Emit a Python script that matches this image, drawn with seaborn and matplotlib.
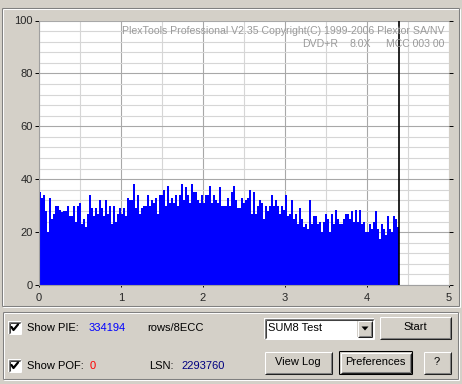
import numpy as np
import pandas as pd
import matplotlib
matplotlib.use("Agg")
import matplotlib.pyplot as plt
from matplotlib.lines import Line2D
from matplotlib.patches import Rectangle, Polygon
from matplotlib.ticker import MultipleLocator
import seaborn as sns

# ---------------- data ----------------
pie_values = [
    35, 33, 34, 28, 20, 33, 25, 27, 30, 30, 28.5, 27.5, 28, 28, 30, 26, 26, 30, 24, 30,
    31, 23, 25, 22, 27, 34, 29, 26, 29, 27, 32, 29, 26, 32, 27, 30, 23, 30, 24, 27,
    29, 27, 29, 26, 33, 32,
    32, 38, 29, 34, 27, 29, 30, 30, 34, 30, 32, 31, 33, 27, 34, 34, 36, 30, 37.5, 31,
    33, 31, 34, 30, 34, 38, 32, 37, 34, 31, 38, 35, 35, 32, 31, 34, 31, 34, 34, 37.5,
    31, 34, 32, 31, 37, 30,
    30, 30, 33, 30, 35, 37.5, 32, 29, 29, 33, 31, 32, 33, 36, 27, 35, 27, 30, 32, 31,
    25, 30, 28, 30, 34, 30, 32, 30, 27, 30, 28.5, 34, 26, 27, 32, 25, 27, 23, 29, 25,
    22, 23, 21, 32, 23, 26,
    26, 23, 24, 20, 24, 27, 25, 20, 27, 23, 28.5, 25, 23, 23, 25, 27, 27, 25, 28, 24,
    28.5, 24, 28.5, 23, 24, 20, 20, 23, 21, 24, 28, 21, 17.5, 23, 21, 19, 26, 21, 20, 26,
    25, 22,
]
scan_end = 4.394          # position (GB) where the scan stopped
x_ticks = [0, 1, 2, 3, 4, 5]
y_ticks = [0, 20, 40, 60, 80, 100]
pie_total = "334194"
pof_total = "0"
lsn_value = "2293760"
title_line = "PlexTools Professional V2.35 Copyright(C) 1999-2006 Plextor SA/NV"
disc_type, disc_speed, disc_id = "DVD+R", "8.0X", "MCC 003 00"

# ---------------- figure ----------------
W, H = 462, 384
BG = "#D4D0C8"
sns.set_style("white")
plt.rcParams["font.family"] = ["Liberation Sans", "DejaVu Sans"]

fig = plt.figure(figsize=(W / 100, H / 100), dpi=100, facecolor=BG)


def fx(x):
    return x / W


def fy(y):
    return 1 - y / H


def hline(x0, x1, y, color, lw=0.75):
    fig.add_artist(Line2D([fx(x0), fx(x1)], [fy(y), fy(y)], color=color, lw=lw,
                          transform=fig.transFigure, solid_capstyle="butt"))


def vline(x, y0, y1, color, lw=0.75):
    fig.add_artist(Line2D([fx(x), fx(x)], [fy(y0), fy(y1)], color=color, lw=lw,
                          transform=fig.transFigure, solid_capstyle="butt"))


def frect(x0, y0, x1, y1, fc):
    fig.add_artist(Rectangle((fx(x0), fy(y1)), fx(x1) - fx(x0), fy(y0) - fy(y1),
                             transform=fig.transFigure, fc=fc, ec="none"))


def outline(x0, y0, x1, y1, tl, br):
    hline(x0, x1, y0, tl)
    vline(x0, y0, y1, tl)
    hline(x0, x1, y1, br)
    vline(x1, y0, y1, br)


def groupbox(x0, y0, x1, y1):
    outline(x0 + 1, y0 + 1, x1 + 1, y1 + 1, "white", "white")
    outline(x0, y0, x1, y1, "#808080", "#808080")


def button(x0, y0, x1, y1, default=False):
    frect(x0, y0, x1, y1, BG)
    if default:
        outline(x0, y0, x1, y1, "black", "black")
        x0, y0, x1, y1 = x0 + 1, y0 + 1, x1 - 1, y1 - 1
    outline(x0 + 0.5, y0 + 0.5, x1 - 0.5, y1 - 0.5, "white", "#202020")
    hline(x0 + 1.5, x1 - 1.5, y1 - 1.5, "#808080")
    vline(x1 - 1.5, y0 + 1.5, y1 - 1.5, "#808080")


def sunken(x0, y0, x1, y1, fc="white"):
    frect(x0, y0, x1, y1, fc)
    outline(x0 + 0.5, y0 + 0.5, x1 - 0.5, y1 - 0.5, "#808080", "white")
    hline(x0 + 1.5, x1 - 1.5, y0 + 1.5, "#404040")
    vline(x0 + 1.5, y0 + 1.5, y1 - 1.5, "#404040")


def checkbox(x0, y0):
    sunken(x0, y0, x0 + 13, y0 + 13)
    xs = [x0 + 3.5, x0 + 5.5, x0 + 10]
    ys = [y0 + 6, y0 + 9, y0 + 3.5]
    fig.add_artist(Line2D([fx(v) for v in xs], [fy(v) for v in ys], color="black",
                          lw=1.6, transform=fig.transFigure))


def label(x, y, s, color="black", ha="left", size=8):
    fig.text(fx(x), fy(y), s, color=color, ha=ha, va="center", fontsize=size)


# group boxes
groupbox(2, 8, 459, 306)
groupbox(3, 312, 458, 379)

# ---------------- chart ----------------
ax = fig.add_axes([fx(39), fy(285), (449 - 39) / W, (285 - 20.5) / H])
ax.set_facecolor("white")

n_bins = len(pie_values)
edges = np.linspace(0, scan_end, n_bins + 1)
df = pd.DataFrame({"pos": (edges[:-1] + edges[1:]) / 2, "pie": pie_values})
sns.histplot(data=df, x="pos", weights="pie", bins=n_bins, binrange=(0, scan_end),
             element="step", fill=True, color="#0000FF", alpha=1, linewidth=0, ax=ax)
ax.axvline(scan_end, color="black", lw=1.2, zorder=5)

ax.set_xlim(0, 5)
ax.set_ylim(0, 100)
ax.set_xticks(x_ticks)
ax.set_yticks(y_ticks)
ax.xaxis.set_minor_locator(MultipleLocator(0.5))
ax.yaxis.set_minor_locator(MultipleLocator(4))
ax.set_axisbelow(True)
ax.grid(which="major", color="#A8A8A8", lw=0.8)
ax.grid(which="minor", color="#D6D6D6", lw=0.8)
ax.tick_params(which="minor", length=0)
ax.tick_params(axis="y", which="major", direction="out", length=3, width=0.7,
               color="black", labelsize=8, pad=1.5, left=True, right=True)
ax.tick_params(axis="x", which="major", direction="out", length=1.5, width=0.7,
               color="black", labelsize=8, pad=4, bottom=True)
ax.set_xlabel("")
ax.set_ylabel("")
for name, sp in ax.spines.items():
    sp.set_visible(name in ("left", "bottom"))
    sp.set_color("#A0A0A0")
    sp.set_linewidth(0.8)

# watermark
grey = "#9A9A9A"
label(444, 31.5, title_line, color=grey, ha="right", size=7.55)
label(338, 44, disc_type, color=grey, ha="right", size=7.55)
label(371, 44, disc_speed, color=grey, ha="right", size=7.55)
label(444, 44, disc_id, color=grey, ha="right", size=7.55)

# ---------------- bottom panel ----------------
checkbox(8, 321)
checkbox(8, 359)
label(27, 328, "Show PIE:")
label(89, 328, pie_total, color="#0000FF")
label(147, 328, "rows/8ECC")
label(27, 366, "Show POF:")
label(90, 366, pof_total, color="#FF0000")
label(149, 366, "LSN:")
label(181, 366, lsn_value, color="#000080")

# combo box
sunken(264, 318, 374, 339)
button(357, 320, 372, 337)
fig.add_artist(Polygon([[fx(361.5), fy(326.5)], [fx(368.5), fy(326.5)], [fx(365), fy(330.5)]],
                       closed=True, fc="black", ec="none", transform=fig.transFigure))
label(268, 328, "SUM8 Test")

button(379, 316, 451, 339)
label(415, 327, "Start", ha="center")
button(264, 351, 332, 374)
label(298, 362, "View Log", ha="center")
button(339, 351, 412, 374, default=True)
label(375.5, 362, "Preferences", ha="center")
button(423, 351, 451, 374)
label(437, 362, "?", ha="center")

fig.savefig("out.png", dpi=100, facecolor=BG)
